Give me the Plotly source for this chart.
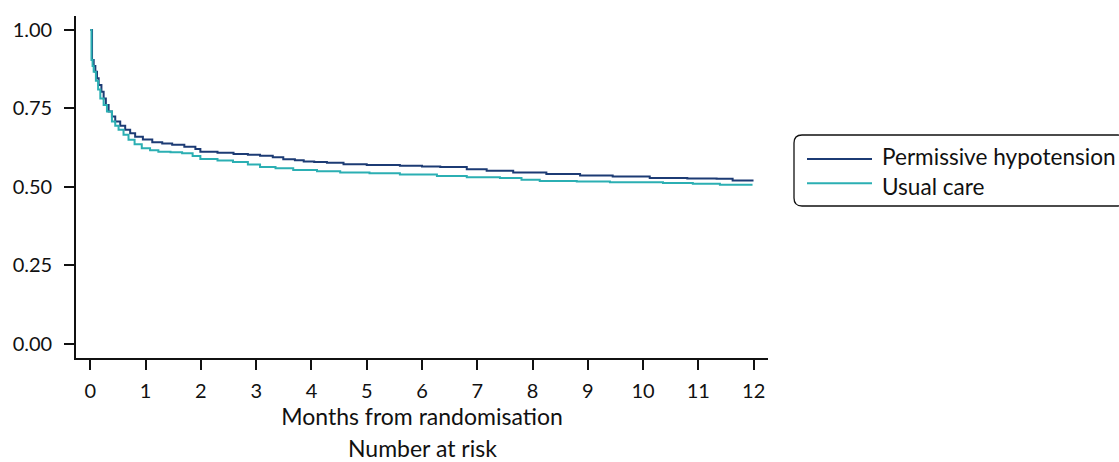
import plotly.graph_objects as go

# Kaplan-Meier style curves (months, survival probability)
perm_t = [0, 0.03, 0.06, 0.09, 0.12, 0.15, 0.20, 0.24, 0.28, 0.33, 0.39, 0.45, 0.54, 0.63, 0.72, 0.81,
          0.95, 1.12, 1.30, 1.48, 1.70, 1.90, 1.99, 2.30, 2.59, 2.85, 3.07, 3.30, 3.49, 3.70, 3.86,
          4.05, 4.28, 4.58, 5.00, 5.60, 6.00, 6.33, 6.81, 7.17, 7.59, 7.65, 8.25, 8.86, 9.45,
          10.12, 10.80, 11.33, 11.62, 11.98]
perm_s = [1.000, 0.904, 0.885, 0.867, 0.846, 0.825, 0.803, 0.782, 0.761, 0.740, 0.724, 0.708, 0.695, 0.682,
          0.671, 0.660, 0.651, 0.642, 0.638, 0.634, 0.628, 0.621, 0.612, 0.609, 0.605, 0.602, 0.599,
          0.594, 0.588, 0.585, 0.581, 0.579, 0.577, 0.572, 0.570, 0.567, 0.565, 0.563, 0.556, 0.551,
          0.551, 0.546, 0.541, 0.536, 0.533, 0.528, 0.527, 0.526, 0.520, 0.517]

usual_t = [0, 0.02, 0.04, 0.06, 0.10, 0.14, 0.18, 0.24, 0.30, 0.39, 0.45, 0.51, 0.60, 0.69, 0.80, 0.93,
           1.08, 1.23, 1.45, 1.66, 1.85, 1.99, 2.30, 2.58, 2.85, 3.07, 3.35, 3.67, 4.10, 4.52, 5.05,
           5.60, 6.27, 6.81, 7.41, 7.80, 8.13, 8.80, 9.40, 10.36, 10.90, 11.39, 11.98]
usual_s = [1.000, 0.904, 0.885, 0.867, 0.838, 0.810, 0.782, 0.761, 0.740, 0.708, 0.695, 0.682, 0.666,
           0.650, 0.636, 0.623, 0.617, 0.612, 0.610, 0.607, 0.598, 0.589, 0.584, 0.579, 0.571, 0.563,
           0.559, 0.554, 0.550, 0.546, 0.543, 0.539, 0.535, 0.531, 0.528, 0.523, 0.519, 0.517, 0.515,
           0.512, 0.510, 0.507, 0.507]

x_ticks = list(range(0, 13))
y_ticks = [0.0, 0.25, 0.5, 0.75, 1.0]
y_tick_labels = ["0.00", "0.25", "0.50", "0.75", "1.00"]

series_names = ["Permissive hypotension", "Usual care"]
series_colors = ["#1c3b74", "#2bafb3"]

FONT = "Lato, 'Open Sans', sans-serif"
FS_TICK = 20
FS_TEXT = 23
FS_LEGEND = 22.6

fig = go.Figure()
fig.add_trace(go.Scatter(x=perm_t, y=perm_s, mode="lines", line=dict(color=series_colors[0], width=2, shape="hv"),
                         name=series_names[0], showlegend=False))
fig.add_trace(go.Scatter(x=usual_t, y=usual_s, mode="lines", line=dict(color=series_colors[1], width=2, shape="hv"),
                         name=series_names[1], showlegend=False))

W, H = 1119, 462
L, R, T, B = 76, 351, 16, 104
pw, ph = W - L - R, H - T - B

def px2paper_x(px):
    return (px - L) / pw

def py2paper_y(py):
    return (H - B - py) / ph

# manual legend with rounded box
x0, x1 = px2paper_x(794), px2paper_x(1126)
y0, y1 = py2paper_y(206), py2paper_y(135)
rx, ry = 8 / pw, 8 / ph
path = (f"M {x0+rx},{y1} L {x1-rx},{y1} Q {x1},{y1} {x1},{y1-ry} L {x1},{y0+ry} Q {x1},{y0} {x1-rx},{y0} "
        f"L {x0+rx},{y0} Q {x0},{y0} {x0},{y0+ry} L {x0},{y1-ry} Q {x0},{y1} {x0+rx},{y1} Z")
shapes = [dict(type="path", xref="paper", yref="paper", path=path, line=dict(color="#111111", width=1.3))]
annotations = []
row_y = [159, 183.3]
split_y = [170.6, 171.8]
anchors = ["bottom", "top"]
for name, col, ry_px, sy, anc in zip(series_names, series_colors, row_y, split_y, anchors):
    yy = py2paper_y(ry_px)
    shapes.append(dict(type="line", xref="paper", yref="paper", x0=px2paper_x(807), x1=px2paper_x(872),
                       y0=yy, y1=yy, line=dict(color=col, width=2)))
    annotations.append(dict(xref="paper", yref="paper", x=px2paper_x(881), y=py2paper_y(sy), text=name,
                            showarrow=False, xanchor="left", yanchor=anc, borderpad=0,
                            font=dict(family=FONT, size=FS_LEGEND, color="#111111")))

annotations.append(dict(xref="paper", yref="paper", x=0.5, y=py2paper_y(448), text="Number at risk",
                        showarrow=False, xanchor="center", yanchor="middle",
                        font=dict(family=FONT, size=FS_TEXT, color="#111111")))

fig.update_layout(
    width=W, height=H,
    margin=dict(l=L, r=R, t=T, b=B, pad=0),
    paper_bgcolor="white", plot_bgcolor="white",
    font=dict(family=FONT, size=FS_TICK, color="#111111"),
    shapes=shapes, annotations=annotations,
    showlegend=False,
)
fig.update_xaxes(range=[-0.26, 12.26], tickmode="array", tickvals=x_ticks, ticktext=[str(v) for v in x_ticks],
                 showgrid=False, zeroline=False, showline=True, linecolor="#111111", linewidth=1.6,
                 ticks="outside", ticklen=10, tickwidth=1.6, tickcolor="#111111", ticklabelstandoff=4,
                 tickfont=dict(family=FONT, size=FS_TICK),
                 title=dict(text="Months from randomisation", standoff=2, font=dict(family=FONT, size=FS_TEXT)))
fig.update_yaxes(range=[-0.0455, 1.0446], tickmode="array", tickvals=y_ticks, ticktext=y_tick_labels,
                 showgrid=False, zeroline=False, showline=True, linecolor="#111111", linewidth=1.6,
                 ticks="outside", ticklen=10, tickwidth=1.6, tickcolor="#111111", ticklabelstandoff=8,
                 tickfont=dict(family=FONT, size=FS_TICK))

fig.write_html("out.html", config={"displayModeBar": False},
               post_script="document.body.style.margin='0';document.body.style.padding='0';")
